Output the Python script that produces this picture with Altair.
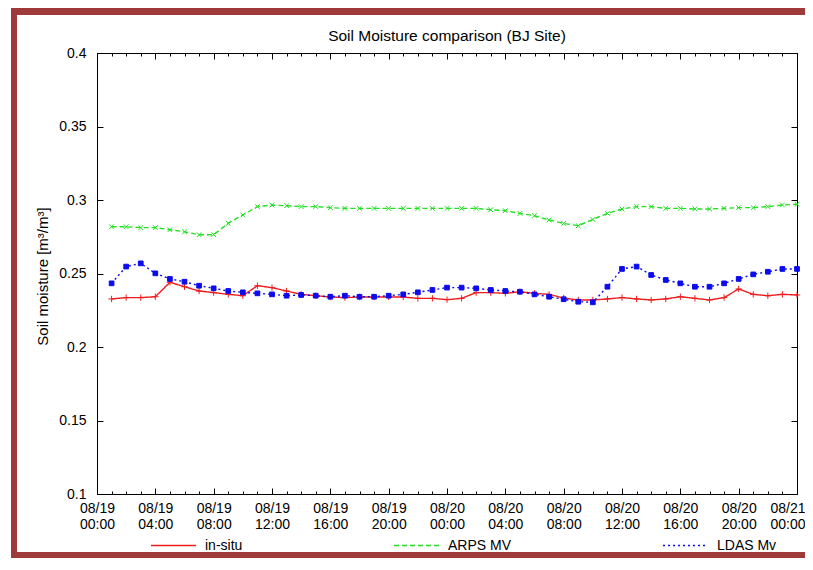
import json
import altair as alt
import pandas as pd

# ---------------- data ----------------
hours = list(range(1, 49))

in_situ = [0.2327, 0.2336, 0.2336, 0.2342, 0.2440, 0.2410, 0.2381, 0.2370,
           0.2358, 0.2349, 0.2417, 0.2404, 0.2381, 0.2358, 0.2349, 0.2340,
           0.2336, 0.2340, 0.2340, 0.2340, 0.2340, 0.2331, 0.2331, 0.2322,
           0.2331, 0.2370, 0.2370, 0.2365, 0.2376, 0.2365, 0.2358, 0.2333,
           0.2320, 0.2320, 0.2327, 0.2336, 0.2327, 0.2320, 0.2327, 0.2342,
           0.2331, 0.2320, 0.2336, 0.2395, 0.2358, 0.2349, 0.2358, 0.2354]

arps_mv = [0.2818, 0.2818, 0.2812, 0.2812, 0.2798, 0.2784, 0.2764, 0.2764,
           0.2841, 0.2898, 0.2955, 0.2966, 0.2961, 0.2955, 0.2955, 0.2948,
           0.2943, 0.2943, 0.2943, 0.2943, 0.2943, 0.2943, 0.2943, 0.2943,
           0.2943, 0.2943, 0.2934, 0.2927, 0.2909, 0.2893, 0.2864, 0.2841,
           0.2825, 0.2868, 0.2909, 0.2939, 0.2955, 0.2955, 0.2943, 0.2943,
           0.2939, 0.2939, 0.2943, 0.2948, 0.2948, 0.2955, 0.2966, 0.2971]

ldas_mv = [0.2433, 0.2547, 0.2569, 0.2501, 0.2463, 0.2444, 0.2417, 0.2399,
           0.2381, 0.2372, 0.2365, 0.2358, 0.2349, 0.2354, 0.2349, 0.2342,
           0.2349, 0.2342, 0.2342, 0.2349, 0.2358, 0.2372, 0.2388, 0.2404,
           0.2404, 0.2399, 0.2388, 0.2381, 0.2376, 0.2358, 0.2342, 0.2325,
           0.2308, 0.2304, 0.2410, 0.2531, 0.2547, 0.2490, 0.2456, 0.2433,
           0.2410, 0.2410, 0.2433, 0.2463, 0.2494, 0.2512, 0.2531, 0.2531]

series_names = ["in-situ", "ARPS MV", "LDAS Mv"]
series_colors = ["#ee1d1d", "#22e022", "#0b0bee"]
series_dash = [[1, 0], [5, 3], [2, 3]]

xtick_major = list(range(0, 49, 4))
xtick_minor = list(range(0, 49, 1))
xtick_labels = ["08/19 00:00", "08/19 04:00", "08/19 08:00", "08/19 12:00",
                "08/19 16:00", "08/19 20:00", "08/20 00:00", "08/20 04:00",
                "08/20 08:00", "08/20 12:00", "08/20 16:00", "08/20 20:00",
                "08/21 00:00"]
ytick_values = [0.1, 0.15, 0.2, 0.25, 0.3, 0.35, 0.4]
ytick_labels = ["0.1", "0.15", "0.2", "0.25", "0.3", "0.35", "0.4"]

title_text = "Soil Moisture comparison (BJ Site)"
ytitle_text = "Soil moisture [m\u00b3/m\u00b3]"

# ---------------- table ----------------
rows = []
for name, vals in zip(series_names, [in_situ, arps_mv, ldas_mv]):
    for h, v in zip(hours, vals):
        rows.append({"hour": h, "value": v, "series": name})
data = pd.DataFrame(rows)

W, H = 700, 441
FONT = "Liberation Sans"
FRAME = "#9e3a3a"

x_scale = alt.Scale(domain=[0, 48], nice=False, zero=False)
y_scale = alt.Scale(domain=[0.1, 0.4], nice=False, zero=False)

x_label_expr = "split(" + json.dumps(xtick_labels) + "[round(datum.value / 4)], ' ')"
y_label_expr = json.dumps(ytick_labels) + "[round((datum.value - 0.1) / 0.05)]"
last_tick = "datum.value == " + str(xtick_major[-1])

base = alt.Chart(data)

legend = alt.Legend(title=None, orient="none", legendX=53, legendY=469,
                    direction="horizontal", symbolType="stroke",
                    symbolSize=2025, symbolStrokeWidth=1.3,
                    labelFont=FONT, labelFontSize=14, labelColor="black",
                    labelOffset=8, gridAlign="none",
                    columnPadding=148, padding=0)

lines = base.mark_line(strokeWidth=1.4).encode(
    x=alt.X("hour:Q", scale=x_scale,
            axis=alt.Axis(orient="bottom", values=xtick_major, labelExpr=x_label_expr,
                          ticks=False, domain=False, grid=False, labelPadding=7,
                          labelFont=FONT, labelFontSize=14, labelLineHeight=16,
                          labelColor="black", labelFlush=False, labelOverlap=False,
                          labelAlign={"condition": {"test": last_tick, "value": "right"},
                                      "value": "center"},
                          labelOffset={"condition": {"test": last_tick, "value": 8},
                                       "value": 0},
                          title=None)),
    y=alt.Y("value:Q", scale=y_scale,
            axis=alt.Axis(orient="left", values=ytick_values, labelExpr=y_label_expr,
                          ticks=False, domain=False, grid=False, labelPadding=11,
                          labelFont=FONT, labelFontSize=14, labelColor="black",
                          labelFlush=False, labelOverlap=False,
                          title=ytitle_text, titleFont=FONT, titleFontSize=15,
                          titleFontWeight="normal", titleColor="black",
                          titleX=-55, titleY=223, titleAngle=270,
                          titleAlign="center", titleBaseline="middle")),
    color=alt.Color("series:N", scale=alt.Scale(domain=series_names, range=series_colors),
                    legend=legend),
    strokeDash=alt.StrokeDash("series:N",
                              scale=alt.Scale(domain=series_names, range=series_dash),
                              legend=legend),
    detail="series:N",
)

def pts(name, color, shape, size, filled):
    return base.transform_filter(alt.datum.series == name).mark_point(
        shape=shape, size=size, filled=filled, color=color, stroke=color,
        strokeWidth=1, opacity=1,
    ).encode(
        x=alt.X("hour:Q", scale=x_scale, axis=None),
        y=alt.Y("value:Q", scale=y_scale, axis=None),
    )

plus_path = "M-1,0L1,0M0,-1L0,1"
x_path = "M-1,-1L1,1M-1,1L1,-1"
p1 = pts("in-situ", series_colors[0], plus_path, 40, False)
p2 = pts("ARPS MV", series_colors[1], x_path, 22, False)
p3 = pts("LDAS Mv", series_colors[2], "square", 22, True)

def xticks(orient, values, size):
    return base.mark_point(opacity=0).encode(
        x=alt.X("hour:Q", scale=x_scale,
                axis=alt.Axis(orient=orient, offset=-H, values=values, labels=False,
                              domain=False, grid=False, ticks=True, tickSize=size,
                              tickColor="black", tickWidth=1, title=None)),
        y=alt.Y("value:Q", scale=y_scale, axis=None),
    )

def yticks(orient, size):
    return base.mark_point(opacity=0).encode(
        x=alt.X("hour:Q", scale=x_scale, axis=None),
        y=alt.Y("value:Q", scale=y_scale,
                axis=alt.Axis(orient=orient, offset=-W, values=ytick_values, labels=False,
                              domain=False, grid=False, ticks=True, tickSize=size,
                              tickColor="black", tickWidth=1, title=None)),
    )

tick_layers = [
    xticks("top", xtick_major, 6), xticks("top", xtick_minor, 3),
    xticks("bottom", xtick_major, 6), xticks("bottom", xtick_minor, 3),
    yticks("right", 6), yticks("left", 6),
]

one = alt.Data(values=[{"k": 1}])
frame_top = alt.Chart(one).mark_rule(color=FRAME, strokeWidth=7).encode(
    x=alt.value(-86), x2=alt.value(720), y=alt.value(-41.5))
frame_left = alt.Chart(one).mark_rule(color=FRAME, strokeWidth=6).encode(
    x=alt.value(-83), y=alt.value(-45), y2=alt.value(505))
frame_bottom = alt.Chart(one).mark_rule(color=FRAME, strokeWidth=6).encode(
    x=alt.value(-86), x2=alt.value(720), y=alt.value(502))

chart = alt.layer(
    *tick_layers, lines, p1, p2, p3, frame_top, frame_left, frame_bottom
).resolve_axis(
    x="independent", y="independent"
).properties(
    width=W, height=H,
    title=alt.Title(title_text, font=FONT, fontSize=15.5, fontWeight="normal",
                    color="black", anchor="middle", frame="group", offset=-51,
                    baseline="alphabetic"),
    autosize=alt.AutoSizeParams(type="none"),
    padding={"left": 89, "top": 45, "right": 8, "bottom": 64},
    background="white",
).configure_view(
    stroke="black", strokeWidth=1
)

chart.save("out.html", embed_options={"renderer": "svg", "actions": False})
